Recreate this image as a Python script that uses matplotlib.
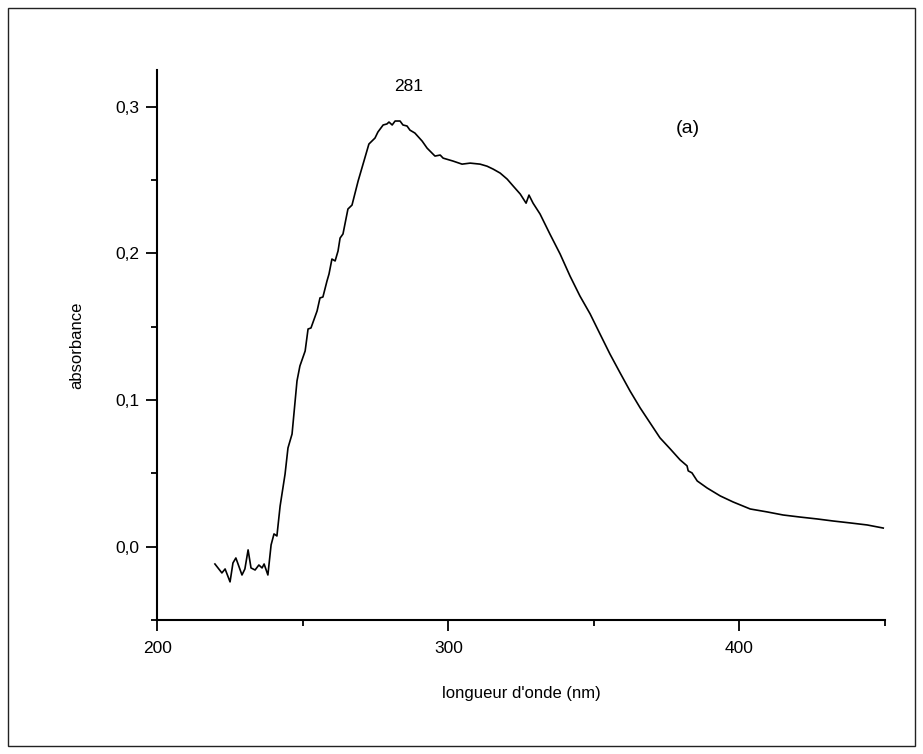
import matplotlib
matplotlib.use("Agg")
import matplotlib.pyplot as plt
from matplotlib.patches import Rectangle
from matplotlib.ticker import MultipleLocator, FuncFormatter

# spectrum (nm, absorbance)
wavelength = [219.8, 222.2, 223.3, 225.0, 226.0, 227.0, 229.1, 230.1, 231.2, 232.2,
              233.6, 234.9, 236.0, 236.7, 238.0, 239.1, 240.1, 241.1, 242.2, 243.9,
              244.9, 246.3, 248.0, 249.0, 250.8, 251.8, 252.8, 254.9, 255.9, 256.9,
              258.3, 259.0, 260.0, 261.1, 262.1, 262.8, 263.8, 265.5, 266.9, 269.0,
              271.0, 272.7, 274.8, 275.8, 277.6, 278.9, 279.6, 280.7, 281.7, 283.4,
              284.4, 285.8, 286.8, 288.5, 291.0, 292.7, 295.4, 297.2, 298.2, 301.6,
              304.7, 307.5, 310.9, 313.3, 315.4, 317.8, 320.2, 322.3, 324.7, 326.7,
              327.7, 329.1, 331.5, 334.9, 338.4, 341.8, 345.2, 348.7, 352.1, 355.5,
              359.0, 362.4, 365.9, 369.3, 372.7, 376.2, 379.6, 382.0, 382.4, 383.7,
              385.5, 388.9, 393.4, 397.8, 403.7, 409.5, 415.0, 420.8, 426.7, 432.2,
              438.0, 443.9, 449.4]
absorbance = [-0.0118, -0.0179, -0.0152, -0.0240, -0.0111, -0.0077, -0.0193, -0.0152, -0.0022, -0.0145,
              -0.0159, -0.0125, -0.0145, -0.0118, -0.0193, 0.0012, 0.0087, 0.0073, 0.0277, 0.0495,
              0.0673, 0.0768, 0.1130, 0.1232, 0.1334, 0.1484, 0.1491, 0.1607, 0.1696, 0.1702,
              0.1811, 0.1859, 0.1961, 0.1948, 0.2016, 0.2104, 0.2132, 0.2302, 0.2329, 0.2493,
              0.2629, 0.2745, 0.2786, 0.2827, 0.2875, 0.2882, 0.2895, 0.2875, 0.2902, 0.2902,
              0.2875, 0.2868, 0.2840, 0.2820, 0.2765, 0.2717, 0.2663, 0.2670, 0.2649, 0.2629,
              0.2608, 0.2615, 0.2608, 0.2594, 0.2574, 0.2547, 0.2506, 0.2458, 0.2404, 0.2342,
              0.2397, 0.2342, 0.2268, 0.2131, 0.1995, 0.1845, 0.1709, 0.1587, 0.1450, 0.1314,
              0.1185, 0.1062, 0.0946, 0.0844, 0.0742, 0.0667, 0.0592, 0.0551, 0.0517, 0.0503,
              0.0448, 0.0400, 0.0346, 0.0305, 0.0257, 0.0237, 0.0216, 0.0202, 0.0189, 0.0175,
              0.0162, 0.0148, 0.0127]

peak_label = "281"
panel_label = "(a)"

plt.rcParams['font.family'] = ['Liberation Sans', 'DejaVu Sans']

fig = plt.figure(figsize=(9.23, 7.54), dpi=100)
ax = fig.add_axes([0.1704, 0.1777, 0.7884, 0.7295])

# outer frame around the whole figure
fig.patches.append(Rectangle((8 / 923, 8 / 754), 907 / 923, 738 / 754,
                             transform=fig.transFigure, fill=False,
                             edgecolor='#222222', linewidth=1.0))

ax.plot(wavelength, absorbance, color='black', linewidth=1.2)

ax.set_xlim(200, 450)
ax.set_ylim(-0.05, 0.325)

ax.spines['top'].set_visible(False)
ax.spines['right'].set_visible(False)
ax.spines['left'].set_linewidth(1.5)
ax.spines['bottom'].set_linewidth(1.5)

ax.xaxis.set_major_locator(MultipleLocator(100))
ax.xaxis.set_minor_locator(MultipleLocator(50))
ax.yaxis.set_major_locator(MultipleLocator(0.1))
ax.yaxis.set_minor_locator(MultipleLocator(0.05))
ax.yaxis.set_major_formatter(FuncFormatter(lambda v, p: f"{v:.1f}".replace('.', ',').replace('-0,0', '0,0')))
ax.tick_params(which='major', length=8, width=1.3, labelsize=12.5, direction='out')
ax.tick_params(axis='x', which='major', pad=7)
ax.tick_params(axis='y', which='major', pad=5)
ax.tick_params(which='minor', length=4, width=1.3, direction='out')

ax.set_xlabel("longueur d'onde (nm)", fontsize=12, labelpad=22)
ax.set_ylabel("absorbance", fontsize=12, labelpad=22)

ax.text(286.5, 0.314, peak_label, fontsize=12.5, ha='center', va='center')
ax.text(382.4, 0.285, panel_label, fontsize=14, ha='center', va='center')

fig.savefig("out.png", dpi=100)
